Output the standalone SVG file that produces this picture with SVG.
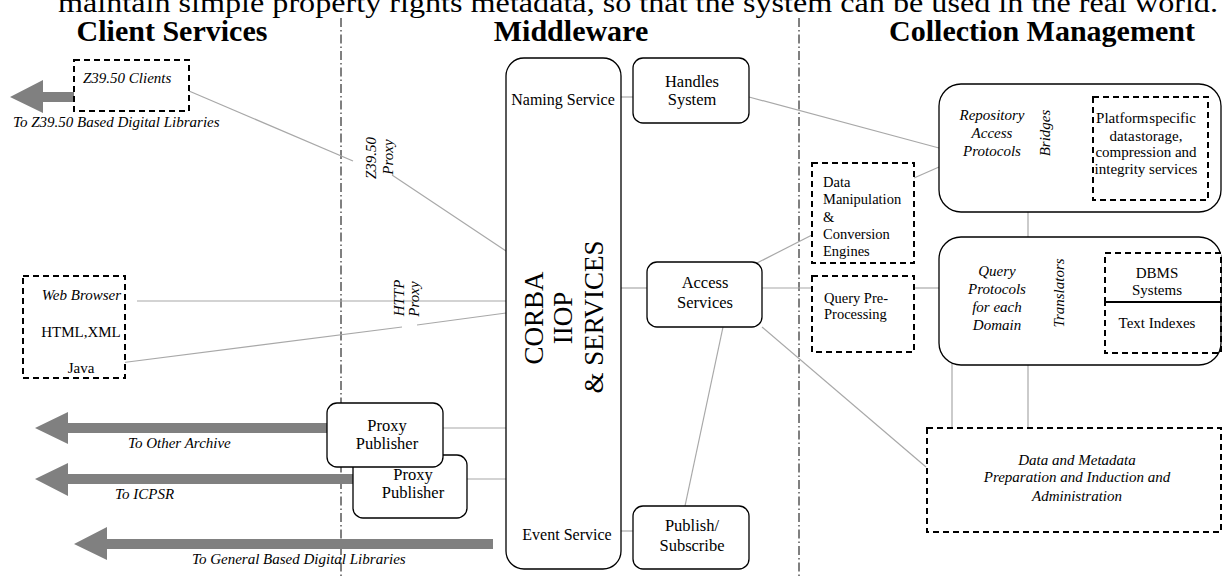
<svg xmlns="http://www.w3.org/2000/svg" width="1222" height="579" viewBox="0 0 1222 579">
<style>
text{font-family:"Liberation Serif","Times New Roman",serif;fill:#000}
.hdr{font-size:30px;font-weight:bold;text-anchor:middle}
.box{fill:#fff;stroke:#000;stroke-width:1.3}
.dash{fill:#fff;stroke:#000;stroke-width:2;stroke-dasharray:6,4}
.con{stroke:#a8a8a8;stroke-width:1.2;fill:none}
.sep{stroke:#000;stroke-width:1;stroke-dasharray:9,3,1.5,3;fill:none}
.arr{fill:#808080}
.lbl{font-size:16.5px;text-anchor:middle}
.it{font-size:15px;font-style:italic}
.sm{font-size:14.5px}
.mid{text-anchor:middle}
</style>
<text x="58" y="12" font-size="28" textLength="1160" lengthAdjust="spacingAndGlyphs">maintain simple property rights metadata, so that the system can be used in the real world.</text>
<g id="headers">
<text class="hdr" x="172" y="41">Client Services</text>
<text class="hdr" x="571" y="41">Middleware</text>
<text class="hdr" x="1042" y="41">Collection Management</text>
</g>
<g id="separators">
<line class="sep" x1="341" y1="18" x2="341" y2="579"/>
<line class="sep" x1="799" y1="18" x2="799" y2="579"/>
</g>
<g id="connectors">
<line class="con" x1="189" y1="91" x2="353" y2="161"/>
<line class="con" x1="392" y1="175" x2="506" y2="251"/>
<line class="con" x1="137" y1="301" x2="506" y2="301"/>
<line class="con" x1="112" y1="364" x2="402" y2="327"/>
<line class="con" x1="417" y1="325" x2="506" y2="313"/>
<line class="con" x1="443" y1="428" x2="506" y2="428"/>
<line class="con" x1="467" y1="479" x2="506" y2="479"/>
<line class="con" x1="621" y1="97" x2="633" y2="97"/>
<line class="con" x1="749" y1="97" x2="939" y2="148"/>
<line class="con" x1="914" y1="178" x2="939" y2="167"/>
<line class="con" x1="621" y1="288" x2="647" y2="288"/>
<line class="con" x1="762" y1="288" x2="812" y2="288"/>
<line class="con" x1="914" y1="288" x2="939" y2="288"/>
<line class="con" x1="757" y1="263" x2="812" y2="235"/>
<line class="con" x1="762" y1="327" x2="926" y2="467"/>
<line class="con" x1="723" y1="327" x2="685" y2="506"/>
<line class="con" x1="621" y1="531" x2="633" y2="531"/>
<line class="con" x1="1028" y1="212" x2="1028" y2="237"/>
<line class="con" x1="952" y1="352" x2="952" y2="428"/>
<line class="con" x1="1028" y1="365" x2="1028" y2="428"/>
<line class="con" x1="1015" y1="135" x2="1040" y2="135"/>
<polyline class="con" points="1093,110 1053,135 1093,162"/>
<line class="con" x1="1028" y1="301" x2="1053" y2="301"/>
<polyline class="con" points="1105,263 1067,288 1105,313"/>
</g>
<g id="arrows">
<polygon class="arr" points="10,97 43,80 43,92 74,92 74,102 43,102 43,113"/>
<polygon class="arr" points="35,428 68,412 68,423 327,423 327,433 68,433 68,444"/>
<polygon class="arr" points="35,479 68,463 68,474 353,474 353,484 68,484 68,496"/>
<polygon class="arr" points="74,544 107,527 107,539 493,539 493,549 107,549 107,560"/>
<text class="it" x="13" y="127">To Z39.50 Based Digital Libraries</text>
<text class="it" x="128" y="448">To Other Archive</text>
<text class="it" x="115" y="499">To ICPSR</text>
<text class="it" x="192" y="564">To General Based Digital Libraries</text>
</g>
<g id="proxy-labels">
<text class="it mid" transform="translate(376,158) rotate(-90)">Z39.50</text>
<text class="it mid" transform="translate(393,157) rotate(-90)">Proxy</text>
<text class="it mid" transform="translate(404,298) rotate(-90)">HTTP</text>
<text class="it mid" transform="translate(419,299) rotate(-90)">Proxy</text>
</g>
<g id="z3950-clients">
<rect class="dash" x="74" y="60" width="115" height="51"/>
<text class="it" x="83" y="83">Z39.50 Clients</text>
</g>
<g id="web-browser">
<rect class="dash" x="23" y="276" width="102" height="102"/>
<text class="it" x="121" y="300" text-anchor="end">Web Browser</text>
<text x="81" y="337" font-size="15" text-anchor="middle">HTML,XML</text>
<text x="81" y="373" font-size="15" text-anchor="middle">Java</text>
</g>
<g id="proxy-publisher-2">
<rect class="box" x="353" y="455" width="114" height="63" rx="10"/>
<text class="lbl" x="413" y="480">Proxy</text>
<text class="lbl" x="413" y="498">Publisher</text>
</g>
<g id="proxy-publisher-1">
<rect class="box" x="327" y="403" width="116" height="64" rx="10"/>
<text class="lbl" x="387" y="431">Proxy</text>
<text class="lbl" x="387" y="449">Publisher</text>
</g>
<g id="corba">
<rect class="box" x="506" y="58" width="115" height="511" rx="18"/>
<text x="563" y="105" font-size="16" text-anchor="middle">Naming Service</text>
<text x="567" y="540" font-size="16" text-anchor="middle">Event Service</text>
<text font-size="27" text-anchor="middle" transform="translate(543,318) rotate(-90)">CORBA</text>
<text font-size="27" text-anchor="middle" transform="translate(572,318) rotate(-90)">IIOP</text>
<text font-size="27" text-anchor="middle" transform="translate(603,317) rotate(-90)">&amp; SERVICES</text>
</g>
<g id="handles-system">
<rect class="box" x="633" y="58" width="116" height="65" rx="10"/>
<text class="lbl" x="692" y="87">Handles</text>
<text class="lbl" x="692" y="105">System</text>
</g>
<g id="access-services">
<rect class="box" x="647" y="262" width="115" height="65" rx="10"/>
<text class="lbl" x="705" y="288">Access</text>
<text class="lbl" x="705" y="308">Services</text>
</g>
<g id="publish-subscribe">
<rect class="box" x="633" y="506" width="116" height="63" rx="10"/>
<text class="lbl" x="692" y="531">Publish/</text>
<text class="lbl" x="692" y="551">Subscribe</text>
</g>
<g id="data-manipulation">
<rect class="dash" x="812" y="163" width="102" height="100"/>
<text class="sm" x="823" y="187">Data</text>
<text class="sm" x="823" y="204">Manipulation</text>
<text class="sm" x="823" y="222">&amp;</text>
<text class="sm" x="823" y="239">Conversion</text>
<text class="sm" x="823" y="256">Engines</text>
</g>
<g id="query-preprocessing">
<rect class="dash" x="812" y="276" width="102" height="76"/>
<text class="sm" x="824" y="303">Query Pre-</text>
<text class="sm" x="824" y="319">Processing</text>
</g>
<g id="repository">
<rect class="box" x="939" y="84" width="282" height="128" rx="22"/>
<text class="it mid" x="992" y="120">Repository</text>
<text class="it mid" x="992" y="138">Access</text>
<text class="it mid" x="992" y="156">Protocols</text>
<text class="it mid" transform="translate(1050,133) rotate(-90)">Bridges</text>
</g>
<g id="platform-services">
<rect class="dash" x="1093" y="97" width="115" height="103"/>
<text x="1146" y="123" font-size="15" text-anchor="middle" word-spacing="-3">Platform specific</text>
<text x="1146" y="141" font-size="15" text-anchor="middle" word-spacing="-3">data storage,</text>
<text x="1146" y="157" font-size="15" text-anchor="middle">compression and</text>
<text x="1146" y="174" font-size="15" text-anchor="middle">integrity services</text>
</g>
<g id="query-protocols">
<rect class="box" x="939" y="237" width="282" height="128" rx="22"/>
<text class="it mid" x="997" y="276">Query</text>
<text class="it mid" x="997" y="294">Protocols</text>
<text class="it mid" x="997" y="312">for each</text>
<text class="it mid" x="997" y="330">Domain</text>
<text class="it mid" transform="translate(1064,293) rotate(-90)">Translators</text>
</g>
<g id="dbms-systems">
<rect class="dash" x="1105" y="253" width="116" height="49"/>
<text x="1157" y="278" font-size="15" text-anchor="middle">DBMS</text>
<text x="1157" y="295" font-size="15" text-anchor="middle">Systems</text>
</g>
<g id="text-indexes">
<rect class="dash" x="1105" y="302" width="116" height="51" style="fill:none"/>
<text x="1157" y="328" font-size="15" text-anchor="middle">Text Indexes</text>
</g>
<g id="data-metadata">
<rect class="dash" x="927" y="428" width="294" height="104"/>
<text class="it mid" x="1077" y="465">Data and Metadata</text>
<text class="it mid" x="1077" y="482">Preparation and Induction and</text>
<text class="it mid" x="1077" y="501">Administration</text>
</g>
</svg>
